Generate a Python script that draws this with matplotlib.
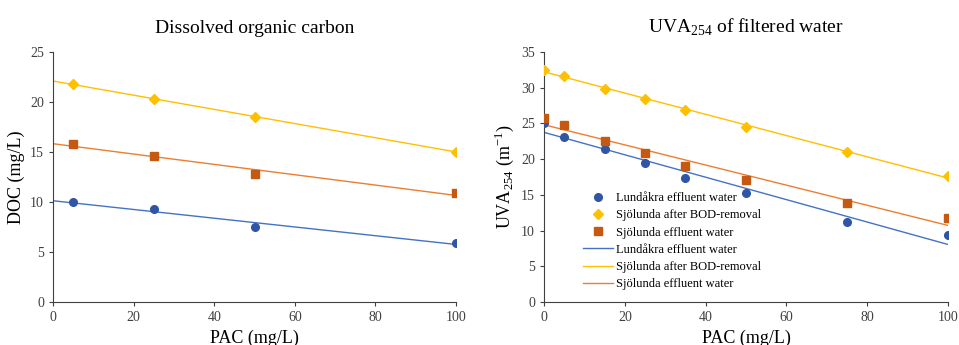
import numpy as np
import matplotlib
matplotlib.use('Agg')
import matplotlib.pyplot as plt

plt.rcParams['font.family'] = ['Liberation Serif', 'DejaVu Serif']
plt.rcParams['mathtext.fontset'] = 'custom'
plt.rcParams['mathtext.rm'] = 'Liberation Serif'

# -----------------------------------------------
# Data
# -----------------------------------------------

# Left chart - Dissolved organic carbon (mg/L)
doc_pac = [5, 25, 50, 100]
doc_lundakra = [9.97, 9.27, 7.47, 5.93]
doc_sjolunda_bod = [21.8, 20.27, 18.53, 15.03]
doc_sjolunda_eff = [15.77, 14.6, 12.77, 10.87]

# Right chart - UVA254 of filtered water (1/m)
uva_pac = [0, 5, 15, 25, 35, 50, 75, 100]
uva_lundakra = [25.0, 23.05, 21.42, 19.46, 17.41, 15.26, 11.15, 9.38]
uva_sjolunda_bod = [32.48, 31.69, 29.87, 28.37, 26.88, 24.5, 21.0, 17.64]
uva_sjolunda_eff = [25.71, 24.73, 22.49, 20.86, 19.04, 17.08, 13.86, 11.76]

names = ['Lundåkra effluent water', 'Sjölunda after BOD-removal', 'Sjölunda effluent water']
markers = ['o', 'D', 's']
marker_sizes = [5.5, 5.5, 6]
marker_colors = ['#2F55A4', '#FFC000', '#C65911']
line_colors = ['#4472C4', '#FFC000', '#ED7D31']

fig = plt.figure(figsize=(9.59, 3.45), dpi=100)
ax1 = fig.add_axes([0.0553, 0.1246, 0.4202, 0.7247])
ax2 = fig.add_axes([0.5673, 0.1246, 0.4212, 0.7247])


def draw(ax, x, series):
    xs = np.array(x, dtype=float)
    fit_x = np.array([0, 100], dtype=float)
    points = []
    lines = []
    for y, name, m, ms, mc in zip(series, names, markers, marker_sizes, marker_colors):
        p, = ax.plot(xs, y, linestyle='none', marker=m, markersize=ms,
                     color=mc, label=name, zorder=3)
        points.append(p)
    # linear trend lines over the full 0-100 range
    for y, name, lc in zip(series, names, line_colors):
        k, b = np.polyfit(xs, y, 1)
        l, = ax.plot(fit_x, k * fit_x + b, color=lc, linewidth=1.0,
                     label=name, zorder=2)
        lines.append(l)
    return points + lines


def style(ax, ymax):
    ax.set_xlim(0, 100)
    ax.set_ylim(0, ymax)
    ax.set_xticks(range(0, 101, 20))
    ax.set_yticks(range(0, ymax + 1, 5))
    ax.spines['top'].set_visible(False)
    ax.spines['right'].set_visible(False)
    ax.spines['left'].set_color('#404040')
    ax.spines['bottom'].set_color('#404040')
    ax.tick_params(direction='out', length=3, width=0.8, colors='#404040',
                   labelsize=10, labelcolor='#404040')
    ax.set_xlabel('PAC (mg/L)', fontsize=13, labelpad=4)


draw(ax1, doc_pac, [doc_lundakra, doc_sjolunda_bod, doc_sjolunda_eff])
style(ax1, 25)
ax1.set_ylabel('DOC (mg/L)', fontsize=13)
ax1.set_title('Dissolved organic carbon', fontsize=14, pad=14)

handles = draw(ax2, uva_pac, [uva_lundakra, uva_sjolunda_bod, uva_sjolunda_eff])
style(ax2, 35)
ax2.set_ylabel(r'UVA$_{\mathregular{254}}$ (m$^{\mathregular{-1}}$)', fontsize=13)
ax2.set_title(r'UVA$_{\mathregular{254}}$ of filtered water', fontsize=14, pad=14)
ax2.legend(handles=handles, loc='upper left', bbox_to_anchor=(0.08, 0.465),
           frameon=False, fontsize=9, handlelength=2.4, handletextpad=0.3,
           labelspacing=0.42, borderpad=0)

plt.savefig('out.png', dpi=100)
